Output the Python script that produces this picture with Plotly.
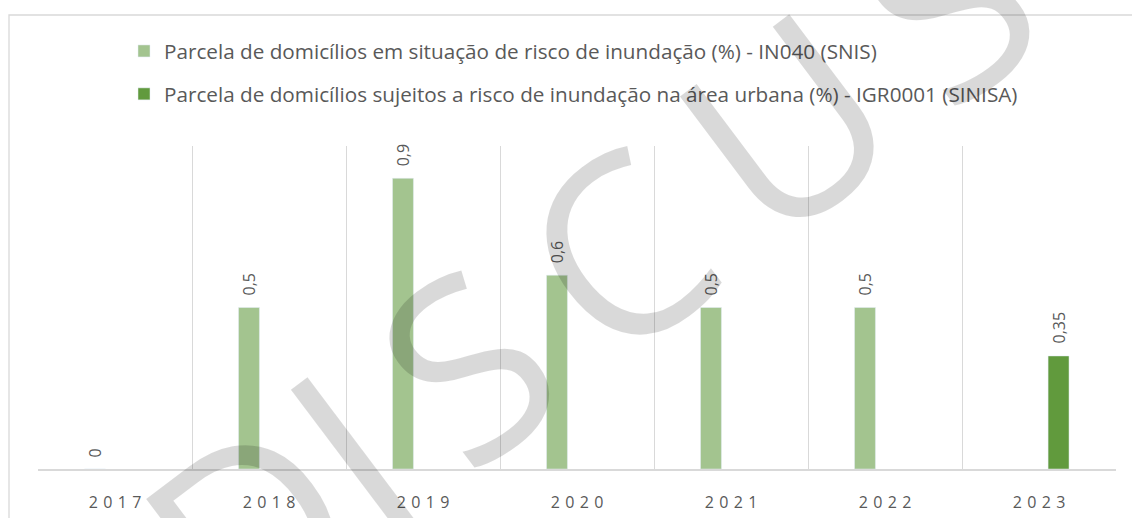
import plotly.graph_objects as go

years = ["2017", "2018", "2019", "2020", "2021", "2022", "2023"]
snis_values = [0, 0.5, 0.9, 0.6, 0.5, 0.5, None]
sinisa_values = [None, None, None, None, None, None, 0.35]
snis_name = "Parcela de domicílios em situação de risco de inundação (%) - IN040 (SNIS)"
sinisa_name = "Parcela de domicílios sujeitos a risco de inundação na área urbana (%) - IGR0001 (SINISA)"
tick_labels = ["\u2004".join(y) for y in years]
watermark = "D" + "\u2009".join("ISCUSSÃO")

W, H = 1132, 518
ML, MR, MT, MB = 38, 16, 146, 49
PW = W - ML - MR
PH = H - MT - MB
CAT_PX = PW / len(years)

LIGHT = "#A3C48F"
DARK = "#619A3D"
GRID = "#D9D9D9"
TXT = "#595959"
FONT = "Open Sans"

BW = 0.136
OFF1 = -0.198
OFF2 = 0.059

fig = go.Figure()
fig.add_trace(go.Bar(x=years, y=snis_values, name=snis_name, marker_color=LIGHT,
                     width=BW, offset=OFF1, legendgroup="a", hoverinfo="skip"))
fig.add_trace(go.Bar(x=years, y=sinisa_values, name=sinisa_name, marker_color=DARK,
                     width=BW, offset=OFF2, legendgroup="b", hoverinfo="skip"))
# helper (empty) trace so the boundary-grid axis exists
fig.add_trace(go.Scatter(x=[], y=[], xaxis="x2", showlegend=False, hoverinfo="skip"))

def fmt(v):
    return f"{v:g}".replace(".", ",")

annotations = []
for vals, off in ((snis_values, OFF1), (sinisa_values, OFF2)):
    shift = (off + BW / 2) * CAT_PX
    for i, v in enumerate(vals):
        if v is None:
            continue
        annotations.append(dict(x=i, y=v, xref="x", yref="y", text=fmt(v), showarrow=False,
                                textangle=-90, xanchor="center", yanchor="bottom",
                                xshift=shift, yshift=10,
                                font=dict(family=FONT, size=16, color=TXT)))

annotations.append(dict(x=(832 - ML) / PW, y=(H - MB - 84) / PH, xref="paper", yref="paper",
                        text=watermark, showarrow=False, textangle=-37,
                        xanchor="center", yanchor="middle",
                        font=dict(family=FONT, size=250, color="rgba(0,0,0,0.15)")))

boundaries = [i - 0.5 for i in range(len(years) + 1)]

fig.update_layout(
    width=W, height=H,
    margin=dict(l=ML, r=MR, t=MT, b=MB, pad=0, autoexpand=False),
    paper_bgcolor="white", plot_bgcolor="white",
    barmode="overlay",
    showlegend=True,
    legend=dict(x=(124 - ML) / PW, y=(H - MB - 31) / PH, xanchor="left", yanchor="top",
                font=dict(family=FONT, size=20.7, color=TXT), tracegroupgap=13,
                traceorder="grouped", bgcolor="rgba(0,0,0,0)"),
    xaxis=dict(type="category", range=[-0.5, 6.5], tickmode="array", tickvals=years,
               ticktext=tick_labels, showgrid=False, showline=True, linecolor=GRID,
               linewidth=1.5, ticks="outside", ticklen=18, tickcolor="rgba(0,0,0,0)",
               tickfont=dict(family=FONT, size=16, color=TXT), automargin=False,
               zeroline=False, fixedrange=True),
    xaxis2=dict(type="linear", overlaying="x", anchor="y", side="bottom",
                range=[-0.5, 6.5], tickmode="array", tickvals=boundaries,
                showticklabels=False, ticks="", showgrid=True, gridcolor=GRID, gridwidth=1,
                showline=False, zeroline=False, fixedrange=True, automargin=False),
    yaxis=dict(range=[0, 1.0], visible=False, showgrid=False, zeroline=False,
               fixedrange=True, automargin=False),
    annotations=annotations,
    shapes=[dict(type="rect", xref="paper", yref="paper",
                 x0=(9 - ML) / PW, x1=(W + 20 - ML) / PW,
                 y0=-0.5, y1=(H - MB - 15) / PH,
                 line=dict(color=GRID, width=1.3), fillcolor="rgba(0,0,0,0)", layer="below")],
    font=dict(family=FONT, color=TXT),
)

fig.write_html("out.html", config={"displayModeBar": False},
               post_script="document.body.style.margin='0';document.body.style.overflow='hidden';")
